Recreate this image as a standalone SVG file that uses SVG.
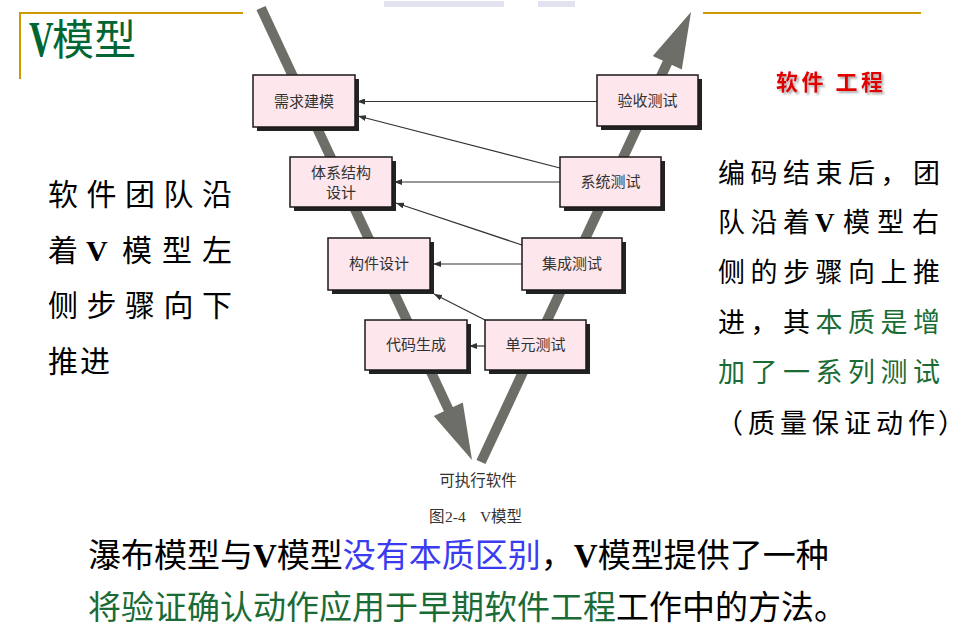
<svg xmlns="http://www.w3.org/2000/svg" width="966" height="631" viewBox="0 0 966 631">
  <style>
    .box { fill: #fde6ec; stroke: #1a1a1a; stroke-width: 1.5; }
    .shadow { fill: #222; }
    .label { font-family: "Noto Sans CJK SC", sans-serif; font-size: 15px; fill: #333; text-anchor: middle; }
    .conn { stroke: #333; stroke-width: 1.2; fill: none; marker-end: url(#tip); }
    .band { stroke: #6e6e68; stroke-width: 10; fill: none; }
    .head { fill: #6e6e68; }
    .gold { stroke: #cc9900; stroke-width: 2; fill: none; }
    .body { font-family: "Noto Sans CJK SC", sans-serif; fill: #000; }
    .vb { font-family: "Liberation Serif", serif; font-weight: bold; }
    .green { fill: #1a6b35; }
    .blue { fill: #3b3bef; }
  </style>
  <defs>
    <marker id="tip" markerUnits="userSpaceOnUse" markerWidth="8" markerHeight="6" refX="8" refY="3" orient="auto">
      <path d="M0,0 L8,3 L0,6 z" fill="#333"/>
    </marker>
    <filter id="soft" x="-10%" y="-20%" width="130%" height="160%">
      <feDropShadow dx="2" dy="2" stdDeviation="1" flood-color="#888" flood-opacity="0.7"/>
    </filter>
  </defs>

  <rect width="966" height="631" fill="#fff"/>

  <!-- faint bars along the top edge -->
  <rect x="384" y="1" width="120" height="6" fill="#e2e2f0"/>
  <rect x="538" y="1" width="37" height="6" fill="#e2e2f0"/>

  <!-- gold frame lines -->
  <path class="gold" d="M20,79 V13 H243"/>
  <path class="gold" d="M703,13 H921"/>

  <!-- title -->
  <g id="title" fill="#006633">
    <text transform="translate(29,56) scale(0.68,1)" class="vb" font-size="50">V</text>
    <text x="52" y="55" font-family="Noto Sans CJK SC, sans-serif" font-size="42">模型</text>
  </g>

  <!-- V bands -->
  <g id="bands">
    <path class="band" d="M261,8 L452,417"/>
    <polygon class="head" points="472,460 433.8,416.1 462.8,402.5"/>
    <path class="band" d="M481,462 L670,57"/>
    <polygon class="head" points="691,12 652.8,55.9 681.8,69.5"/>
  </g>

  <!-- connectors -->
  <g id="connectors">
    <path class="conn" d="M597,101.5 L357,101.5"/>
    <path class="conn" d="M560,168 L358,116"/>
    <path class="conn" d="M560,182 L394,182"/>
    <path class="conn" d="M522,245 L396,203"/>
    <path class="conn" d="M522,264 L433,264"/>
    <path class="conn" d="M485,320 L434,294"/>
    <path class="conn" d="M485,346 L469,346"/>
  </g>

  <!-- stage nodes -->
  <g id="req">
    <rect class="shadow" x="257" y="79" width="102" height="52"/>
    <rect class="box" x="253" y="75" width="102" height="52"/>
    <text class="label" x="304" y="107">需求建模</text>
  </g>
  <g id="arch">
    <rect class="shadow" x="294" y="161" width="102" height="50"/>
    <rect class="box" x="290" y="157" width="102" height="50"/>
    <text class="label" x="341" y="178">体系结构</text>
    <text class="label" x="341" y="198">设计</text>
  </g>
  <g id="comp">
    <rect class="shadow" x="332" y="242" width="102" height="52"/>
    <rect class="box" x="328" y="238" width="102" height="52"/>
    <text class="label" x="379" y="269">构件设计</text>
  </g>
  <g id="code">
    <rect class="shadow" x="369" y="324" width="102" height="50"/>
    <rect class="box" x="365" y="320" width="102" height="50"/>
    <text class="label" x="416" y="350">代码生成</text>
  </g>
  <g id="unit">
    <rect class="shadow" x="489" y="324" width="101" height="50"/>
    <rect class="box" x="485" y="320" width="101" height="50"/>
    <text class="label" x="535.5" y="350">单元测试</text>
  </g>
  <g id="integ">
    <rect class="shadow" x="526" y="242" width="100" height="52"/>
    <rect class="box" x="522" y="238" width="100" height="52"/>
    <text class="label" x="572" y="269">集成测试</text>
  </g>
  <g id="sys">
    <rect class="shadow" x="564" y="161" width="101" height="50"/>
    <rect class="box" x="560" y="157" width="101" height="50"/>
    <text class="label" x="610.5" y="187">系统测试</text>
  </g>
  <g id="accept">
    <rect class="shadow" x="601" y="79" width="101" height="51"/>
    <rect class="box" x="597" y="75" width="101" height="51"/>
    <text class="label" x="647.5" y="106">验收测试</text>
  </g>

  <!-- captions under the V -->
  <text x="478" y="486" font-family="Noto Sans CJK SC, sans-serif" font-size="15.5" fill="#333" text-anchor="middle">可执行软件</text>
  <g font-size="15.5" fill="#333">
    <text x="429" y="522" font-family="Noto Sans CJK SC, sans-serif">图</text>
    <text x="445" y="522" font-family="Liberation Serif, serif">2-4</text>
    <text x="480" y="522" font-family="Liberation Serif, serif">V</text>
    <text x="491" y="522" font-family="Noto Sans CJK SC, sans-serif">模型</text>
  </g>

  <!-- red course label with soft shadow -->
  <text x="776" y="90" font-family="Noto Sans CJK SC, sans-serif" font-weight="bold" font-size="22" fill="#e00000" filter="url(#soft)" textLength="107" lengthAdjust="spacing">软件 工程</text>

  <!-- left note -->
  <g class="body" font-size="30">
    <text y="205"><tspan x="48">软</tspan><tspan x="86.5">件</tspan><tspan x="125">团</tspan><tspan x="163.5">队</tspan><tspan x="202">沿</tspan></text>
    <text y="261"><tspan x="48">着</tspan><tspan x="86" class="vb">V</tspan><tspan x="122">模</tspan><tspan x="162">型</tspan><tspan x="202">左</tspan></text>
    <text y="316"><tspan x="48">侧</tspan><tspan x="86.5">步</tspan><tspan x="125">骤</tspan><tspan x="163.5">向</tspan><tspan x="202">下</tspan></text>
    <text y="372"><tspan x="48">推</tspan><tspan x="80">进</tspan></text>
  </g>

  <!-- right note -->
  <g class="body" font-size="27">
    <text y="183"><tspan x="718">编</tspan><tspan x="750.5">码</tspan><tspan x="783">结</tspan><tspan x="815.5">束</tspan><tspan x="848">后</tspan><tspan x="880.5">，</tspan><tspan x="913">团</tspan></text>
    <text y="232"><tspan x="718">队</tspan><tspan x="750.5">沿</tspan><tspan x="783">着</tspan><tspan x="815" class="vb">V</tspan><tspan x="843">模</tspan><tspan x="877">型</tspan><tspan x="912">右</tspan></text>
    <text y="282"><tspan x="718">侧</tspan><tspan x="750.5">的</tspan><tspan x="783">步</tspan><tspan x="815.5">骤</tspan><tspan x="848">向</tspan><tspan x="880.5">上</tspan><tspan x="913">推</tspan></text>
    <text y="332"><tspan x="718">进</tspan><tspan x="750.5">，</tspan><tspan x="783">其</tspan><tspan x="815.5" class="green">本</tspan><tspan x="848" class="green">质</tspan><tspan x="880.5" class="green">是</tspan><tspan x="913" class="green">增</tspan></text>
    <text y="382" class="green"><tspan x="718">加</tspan><tspan x="750.5">了</tspan><tspan x="783">一</tspan><tspan x="815.5">系</tspan><tspan x="848">列</tspan><tspan x="880.5">测</tspan><tspan x="913">试</tspan></text>
    <text y="433"><tspan x="716">（</tspan><tspan x="748">质</tspan><tspan x="780">量</tspan><tspan x="812">保</tspan><tspan x="844">证</tspan><tspan x="876">动</tspan><tspan x="908">作</tspan><tspan x="938">）</tspan></text>
  </g>

  <!-- bottom summary -->
  <g class="body" font-size="33">
    <text x="88" y="567">瀑布模型与<tspan class="vb">V</tspan>模型<tspan class="blue">没有本质区别</tspan>，<tspan class="vb">V</tspan>模型提供了一种</text>
    <text x="88" y="619"><tspan class="green">将验证确认动作应用于早期软件工程</tspan>工作中的方法。</text>
  </g>
</svg>
